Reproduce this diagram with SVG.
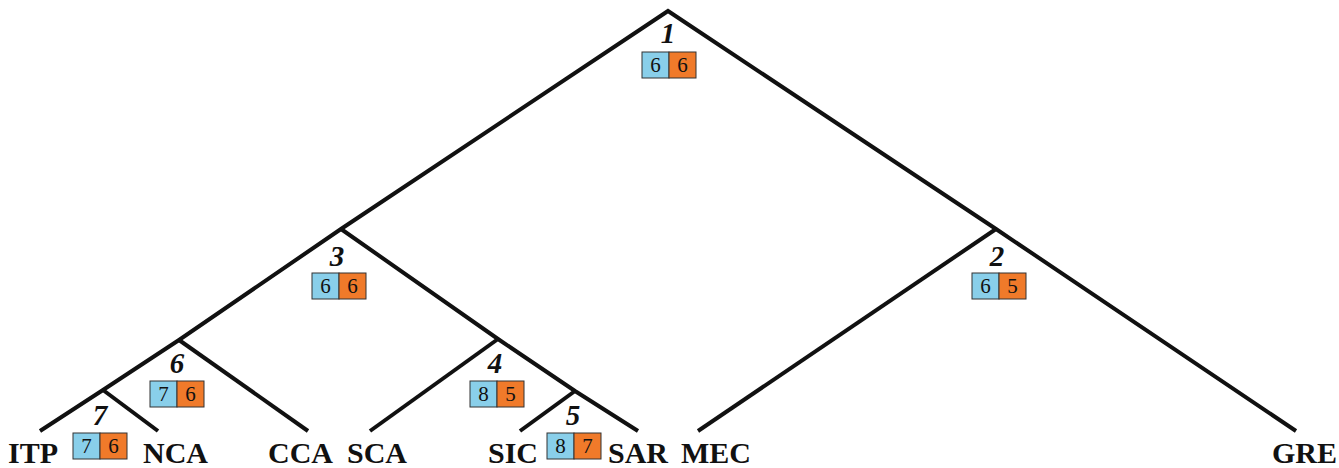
<svg xmlns="http://www.w3.org/2000/svg" width="1339" height="468" viewBox="0 0 1339 468">
<style>
.br{fill:none;stroke:#111;stroke-width:4;stroke-linejoin:miter;stroke-linecap:butt}
.num{font-family:"Liberation Serif","Times New Roman",serif;font-weight:bold;font-style:italic;font-size:29px;text-anchor:middle;fill:#111}
.leaf{font-family:"Liberation Serif","Times New Roman",serif;font-weight:bold;font-size:30px;fill:#111}
.b{fill:#89CFEA;stroke:#333;stroke-width:1}
.o{fill:#F07A2A;stroke:#333;stroke-width:1}
.v{font-family:"Liberation Serif","Times New Roman",serif;font-size:21px;text-anchor:middle;fill:#111}
</style>
<rect width="1339" height="468" fill="#fff"/>
<g id="connectors">
<polyline class="br" points="40,431 103,390 179,340 341,229 668,11 996,229 1296,431"/>
<line class="br" x1="103" y1="390" x2="158" y2="431"/>
<line class="br" x1="179" y1="340" x2="308" y2="431"/>
<polyline class="br" points="341,229 498,339 575,391 638,431"/>
<line class="br" x1="498" y1="339" x2="370" y2="431"/>
<line class="br" x1="575" y1="391" x2="520" y2="431"/>
<line class="br" x1="996" y1="229" x2="698" y2="431"/>
</g>
<g id="node1">
<text class="num" x="668" y="43">1</text>
<rect class="b" x="642" y="52" width="27" height="26"/><rect class="o" x="669" y="52" width="27" height="26"/>
<text class="v" x="655.5" y="72">6</text><text class="v" x="682.5" y="72">6</text>
</g>
<g id="node2">
<text class="num" x="997" y="266">2</text>
<rect class="b" x="972" y="273" width="27" height="26"/><rect class="o" x="999" y="273" width="27" height="26"/>
<text class="v" x="985.5" y="293">6</text><text class="v" x="1012.5" y="293">5</text>
</g>
<g id="node3">
<text class="num" x="337" y="266">3</text>
<rect class="b" x="312" y="273" width="27" height="26"/><rect class="o" x="339" y="273" width="27" height="26"/>
<text class="v" x="325.5" y="293">6</text><text class="v" x="352.5" y="293">6</text>
</g>
<g id="node4">
<text class="num" x="495" y="373">4</text>
<rect class="b" x="470" y="381" width="27" height="26"/><rect class="o" x="497" y="381" width="27" height="26"/>
<text class="v" x="483.5" y="401">8</text><text class="v" x="510.5" y="401">5</text>
</g>
<g id="node5">
<text class="num" x="573" y="425">5</text>
<rect class="b" x="547" y="433" width="27" height="26"/><rect class="o" x="574" y="433" width="27" height="26"/>
<text class="v" x="560.5" y="453">8</text><text class="v" x="587.5" y="453">7</text>
</g>
<g id="node6">
<text class="num" x="177" y="373">6</text>
<rect class="b" x="150" y="381" width="27" height="26"/><rect class="o" x="177" y="381" width="27" height="26"/>
<text class="v" x="163.5" y="401">7</text><text class="v" x="190.5" y="401">6</text>
</g>
<g id="node7">
<text class="num" x="100" y="425">7</text>
<rect class="b" x="73" y="433" width="27" height="26"/><rect class="o" x="100" y="433" width="27" height="26"/>
<text class="v" x="86.5" y="453">7</text><text class="v" x="113.5" y="453">6</text>
</g>
<g id="leaf-ITP"><text class="leaf" x="8" y="463">ITP</text></g>
<g id="leaf-NCA"><text class="leaf" x="143" y="463">NCA</text></g>
<g id="leaf-CCA"><text class="leaf" x="268" y="463">CCA</text></g>
<g id="leaf-SCA"><text class="leaf" x="347" y="463">SCA</text></g>
<g id="leaf-SIC"><text class="leaf" x="488" y="463">SIC</text></g>
<g id="leaf-SAR"><text class="leaf" x="608" y="463">SAR</text></g>
<g id="leaf-MEC"><text class="leaf" x="681" y="463">MEC</text></g>
<g id="leaf-GRE"><text class="leaf" x="1272" y="463">GRE</text></g>
</svg>
